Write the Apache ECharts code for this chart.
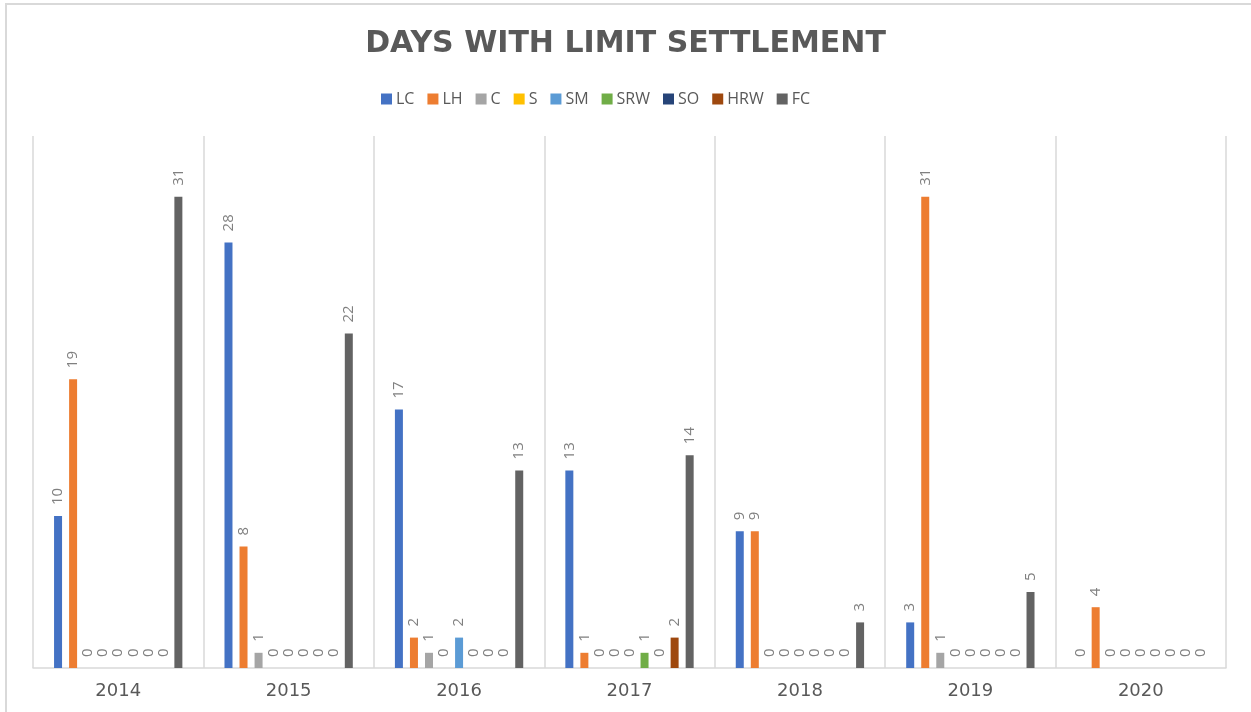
<!DOCTYPE html>
<html>
<head>
<meta charset="utf-8">
<style>
  html, body { margin: 0; padding: 0; background: #fff; }
  #chart { width: 1251px; height: 712px; }
</style>
<script src="https://cdn.jsdelivr.net/npm/echarts@6/dist/echarts.min.js"></script>
</head>
<body>
<div id="chart"></div>
<script>
// Categories and series
var years = ['2014', '2015', '2016', '2017', '2018', '2019', '2020'];
var seriesNames = ['LC', 'LH', 'C', 'S', 'SM', 'SRW', 'SO', 'HRW', 'FC'];
var lc  = [10, 28, 17, 13, 9, 3, 0];
var lh  = [19, 8, 2, 1, 9, 31, 4];
var c   = [0, 1, 1, 0, 0, 1, 0];
var s   = [0, 0, 0, 0, 0, 0, 0];
var sm  = [0, 0, 2, 0, 0, 0, 0];
var srw = [0, 0, 0, 1, 0, 0, 0];
var so  = [0, 0, 0, 0, 0, 0, 0];
var hrw = [0, 0, 0, 2, 0, 0, 0];
var fc  = [31, 22, 13, 14, 3, 5, 0];

var seriesValues = [lc, lh, c, s, sm, srw, so, hrw, fc];
var colors = ['#4472C4', '#ED7D31', '#A5A5A5', '#FFC000', '#5B9BD5', '#70AD47', '#264478', '#9E480E', '#636363'];

var chart = echarts.init(document.getElementById('chart'));

var series = seriesNames.map(function (name, i) {
    return {
        name: name,
        type: 'bar',
        data: seriesValues[i],
        barWidth: 8,
        barGap: '88%',
        label: {
            show: true,
            position: 'top',
            rotate: 90,
            align: 'left',
            verticalAlign: 'middle',
            distance: 11,
            color: '#808080',
            fontSize: 15,
            fontFamily: 'Open Sans, sans-serif'
        }
    };
});

chart.setOption({
    animation: false,
    color: colors,
    textStyle: {
        fontFamily: 'Open Sans, sans-serif'
    },

    // Chart border (Excel-like chart area)
    graphic: [{
        type: 'rect',
        shape: { x: 6, y: 4, width: 1400, height: 900 },
        style: { fill: 'none', stroke: '#d9d9d9', lineWidth: 2 },
        silent: true
    }],

    title: {
        text: 'DAYS WITH LIMIT SETTLEMENT',
        left: 'center',
        top: 24,
        textStyle: {
            fontFamily: 'DejaVu Sans, sans-serif',
            fontWeight: 'bold',
            fontSize: 30,
            color: '#595959'
        }
    },

    legend: {
        data: seriesNames,
        left: 376,
        top: 86,
        itemWidth: 11,
        itemHeight: 11,
        itemGap: 13,
        icon: 'rect',
        textStyle: {
            fontSize: 16,
            color: '#595959',
            padding: [0, 0, 0, -1]
        }
    },

    grid: {
        left: 33,
        right: 25,
        top: 136,
        bottom: 44
    },

    xAxis: {
        type: 'category',
        data: years,
        axisTick: { show: false },
        axisLine: { lineStyle: { color: '#d9d9d9', width: 1.5 } },
        splitLine: {
            show: true,
            lineStyle: { color: '#d9d9d9', width: 1.5 }
        },
        axisLabel: {
            color: '#595959',
            fontSize: 18,
            margin: 14,
            fontFamily: 'DejaVu Sans, sans-serif'
        }
    },

    yAxis: {
        type: 'value',
        min: 0,
        max: 35,
        show: false,
        splitLine: { show: false }
    },

    series: series
});
</script>
</body>
</html>
